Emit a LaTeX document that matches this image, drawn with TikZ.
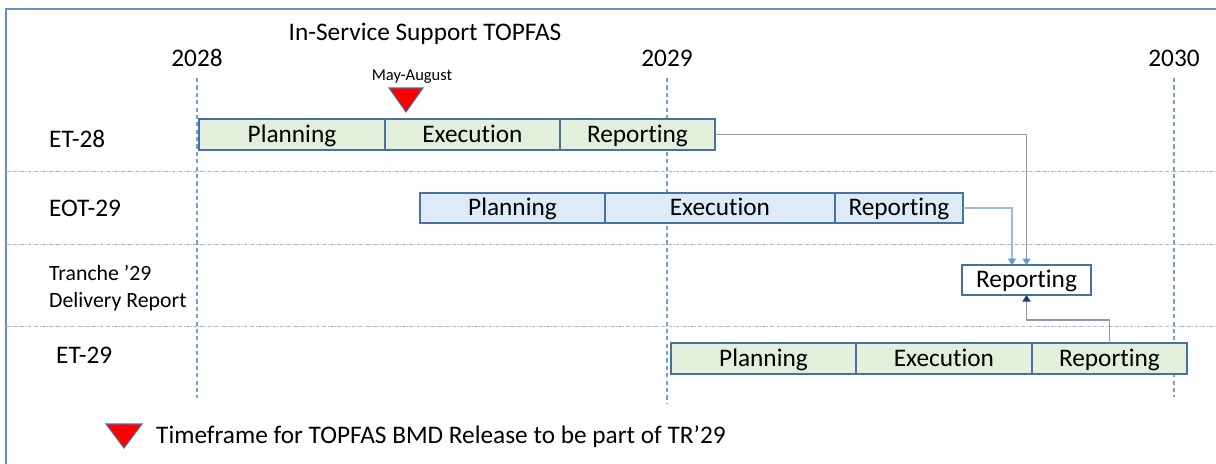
\documentclass[tikz,border=0pt]{standalone}
\usepackage{fontspec}
\setmainfont{Carlito}[Ligatures=NoCommon]
\usetikzlibrary{positioning, arrows.meta}

\definecolor{framebl}{RGB}{91,143,206}
\definecolor{barline}{RGB}{72,114,158}
\definecolor{etgreen}{RGB}{226,239,218}
\definecolor{eotblue}{RGB}{221,234,247}
\definecolor{yearblue}{RGB}{120,158,208}
\definecolor{sepgray}{RGB}{160,182,208}
\definecolor{linkgray}{RGB}{140,154,176}
\definecolor{linklight}{RGB}{150,190,228}
\definecolor{tipblue}{RGB}{91,155,213}
\definecolor{tipnavy}{RGB}{31,56,100}

\begin{document}
\begin{tikzpicture}[
    x=0.02cm, y=-0.02cm,
    font=\fontsize{14.4}{17}\selectfont,
    phase/.style={rectangle, draw=barline, line width=0.8pt, minimum height=0.62cm, inner sep=0pt, outer sep=0pt, text height=11.5pt, text depth=2.5pt},
    etphase/.style={phase, fill=etgreen},
    eotphase/.style={phase, fill=eotblue, minimum height=0.6cm},
    rowlabel/.style={anchor=west},
    yearline/.style={yearblue, line width=1pt, dash pattern=on 2.4pt off 1.8pt},
    rowsep/.style={sepgray, line width=0.5pt, dash pattern=on 2pt off 0.8pt on 0.5pt off 0.8pt},
    marker/.style={fill=red, draw=barline, line width=0.6pt},
    arrow/.style={-{Triangle[length=1.3mm, width=1.6mm]}, line width=0.6pt}
]
\useasboundingbox (0,0) rectangle (1216,463);
\clip (0,0) rectangle (1216,463);

% Frame
\draw[framebl, line width=1.2pt] (6,9) rectangle (1240,490);

% Title and years
\node (title) at (425,34) {In-Service Support TOPFAS};
\node (y28) at (197,58) {2028};
\node (y29) at (667,58) {2029};
\node (y30) at (1174,58) {2030};

\draw[yearline] (197,78) -- (197,398);
\draw[yearline] (667,78) -- (667,403);
\draw[yearline] (1174,78) -- (1174,397);

% Row separators
\draw[rowsep] (6,171) -- (1216,171);
\draw[rowsep] (6,244) -- (1216,244);
\draw[rowsep] (6,326) -- (1216,326);

% Row labels
\node[rowlabel] (lab28) at (43,139) {ET-28};
\node[rowlabel] (labeot) at (43,208) {EOT-29};
\node[rowlabel, align=left, font=\fontsize{12.4}{15}\selectfont] (labtr) at (43,288) {Tranche ’29\\Delivery Report};
\node[rowlabel] (lab29) at (50,355) {ET-29};

% ET-28
\node[etphase, minimum width=3.72cm, anchor=west] (et28p) at (199,134.5) {Planning};
\node[etphase, minimum width=3.50cm, right=0pt of et28p] (et28e) {Execution};
\node[etphase, minimum width=3.10cm, right=0pt of et28e] (et28r) {Reporting};

% EOT-29
\node[eotphase, minimum width=3.70cm, anchor=west] (eotp) at (420,208) {Planning};
\node[eotphase, minimum width=4.60cm, right=0pt of eotp] (eote) {Execution};
\node[eotphase, minimum width=2.56cm, right=0pt of eote] (eotr) {Reporting};

% ET-29
\node[etphase, minimum width=3.70cm, anchor=west] (et29p) at (671,358.5) {Planning};
\node[etphase, minimum width=3.52cm, right=0pt of et29p] (et29e) {Execution};
\node[etphase, minimum width=3.10cm, right=0pt of et29e] (et29r) {Reporting};

% Delivery report
\node[phase, fill=white, minimum width=2.58cm, minimum height=0.6cm] (rep) at (1026.5,280) {Reporting};

% May-August marker
\node[font=\fontsize{9.4}{11}\selectfont] (may) at (412,77) {May-August};
\draw[marker] (389,88) -- (423,88) -- (406,112) -- cycle;

% Links into the report
\draw[arrow, linkgray, -{Triangle[length=1.3mm, width=1.6mm, color=tipblue]}] (et28r.east) -| (rep.north);
\draw[arrow, linklight, -{Triangle[length=1.3mm, width=1.6mm, color=tipblue]}] (eotr.east) -| ([xshift=-0.29cm]rep.north);
\draw[arrow, linkgray, -{Triangle[length=1.3mm, width=1.6mm, color=tipnavy]}] (et29r.north) -- ++(0,-23) -| (rep.south);

% Legend
\draw[marker] (106,424) -- (142,424) -- (124,448) -- cycle;
\node[anchor=west] (legend) at (150,437) {Timeframe for TOPFAS BMD Release to be part of TR’29};

\end{tikzpicture}
\end{document}
